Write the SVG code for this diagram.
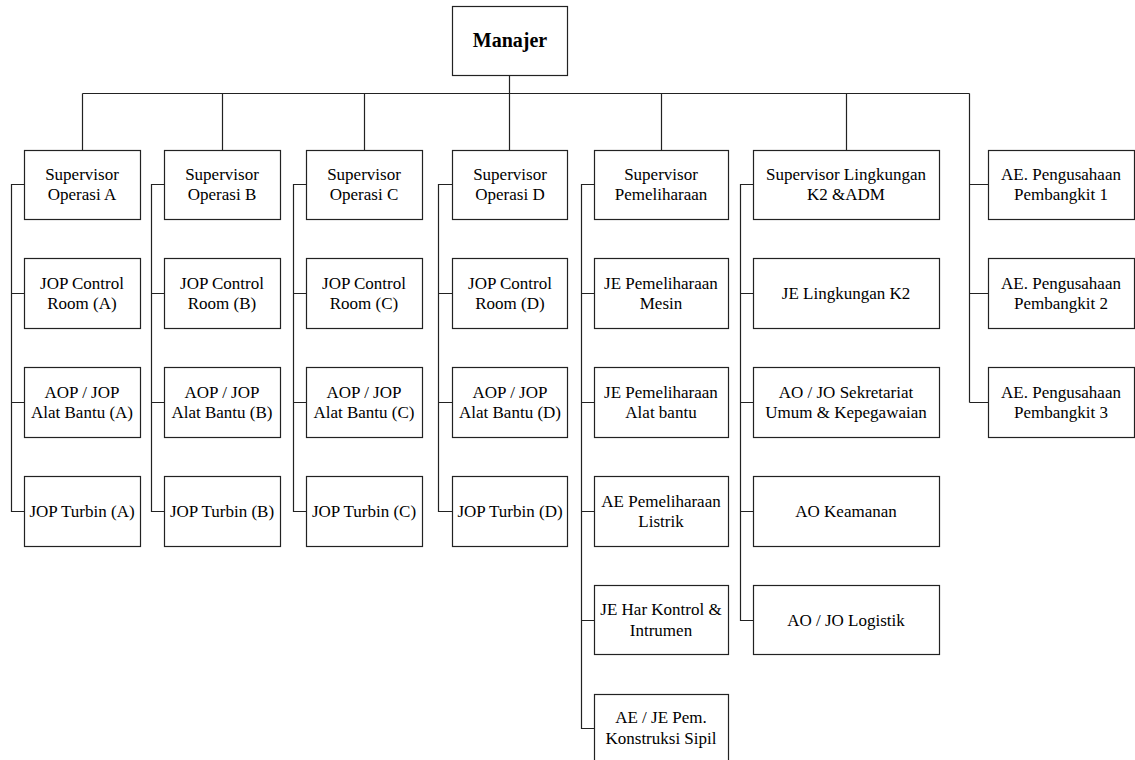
<svg xmlns="http://www.w3.org/2000/svg" width="1135" height="760" viewBox="0 0 1135 760">
<style>
.b{fill:#fff;stroke:#222;stroke-width:1.2}
.c{fill:none;stroke:#222;stroke-width:1.2}
text{font-family:"Liberation Serif","Times New Roman",serif;font-size:17px;fill:#000;text-anchor:middle}
.m{font-size:20px;font-weight:bold}
</style>
<rect width="1135" height="760" fill="#fff"/>
<g id="connectors">
<path class="c" d="M509.5 75.5V150.5M82.5 93.5H969.5M82.5 93.5V150.5M222.5 93.5V150.5M364.5 93.5V150.5M661.5 93.5V150.5M846.5 93.5V150.5"/>
<path class="c" d="M969.5 93.5V402.5M969.5 184.5H988.5M969.5 293.5H988.5M969.5 402.5H988.5"/>
<path class="c" d="M24.5 184.5H11.5V511.5H24.5M11.5 293.5H24.5M11.5 402.5H24.5"/>
<path class="c" d="M164.5 184.5H151.5V511.5H164.5M151.5 293.5H164.5M151.5 402.5H164.5"/>
<path class="c" d="M306.5 184.5H293.5V511.5H306.5M293.5 293.5H306.5M293.5 402.5H306.5"/>
<path class="c" d="M452.5 184.5H438.5V511.5H452.5M438.5 293.5H452.5M438.5 402.5H452.5"/>
<path class="c" d="M594.5 184.5H581.5V728.5H594.5M581.5 293.5H594.5M581.5 402.5H594.5M581.5 511.5H594.5M581.5 620.5H594.5"/>
<path class="c" d="M753.5 184.5H740.5V620.5H753.5M740.5 293.5H753.5M740.5 402.5H753.5M740.5 511.5H753.5"/>
</g>
<g id="manajer"><rect class="b" x="452.5" y="6.5" width="115" height="69"/><text class="m" x="510" y="47">Manajer</text></g>

<g id="sup-a"><rect class="b" x="24.5" y="150.5" width="116" height="69"/><text x="82" y="179.5">Supervisor</text><text x="82" y="200">Operasi A</text></g>
<g id="sup-b"><rect class="b" x="164.5" y="150.5" width="116" height="69"/><text x="222" y="179.5">Supervisor</text><text x="222" y="200">Operasi B</text></g>
<g id="sup-c"><rect class="b" x="306.5" y="150.5" width="116" height="69"/><text x="364" y="179.5">Supervisor</text><text x="364" y="200">Operasi C</text></g>
<g id="sup-d"><rect class="b" x="452.5" y="150.5" width="115" height="69"/><text x="510" y="179.5">Supervisor</text><text x="510" y="200">Operasi D</text></g>
<g id="sup-pem"><rect class="b" x="594.5" y="150.5" width="134" height="69"/><text x="661" y="179.5">Supervisor</text><text x="661" y="200">Pemeliharaan</text></g>
<g id="sup-ling"><rect class="b" x="753.5" y="150.5" width="186" height="69"/><text x="846" y="179.5">Supervisor Lingkungan</text><text x="846" y="200">K2 &amp;ADM</text></g>
<g id="ae1"><rect class="b" x="988.5" y="150.5" width="146" height="69"/><text x="1061" y="179.5">AE. Pengusahaan</text><text x="1061" y="200">Pembangkit 1</text></g>

<g id="jop-cr-a"><rect class="b" x="24.5" y="258.5" width="116" height="70"/><text x="82" y="288.5">JOP Control</text><text x="82" y="309">Room (A)</text></g>
<g id="jop-cr-b"><rect class="b" x="164.5" y="258.5" width="116" height="70"/><text x="222" y="288.5">JOP Control</text><text x="222" y="309">Room (B)</text></g>
<g id="jop-cr-c"><rect class="b" x="306.5" y="258.5" width="116" height="70"/><text x="364" y="288.5">JOP Control</text><text x="364" y="309">Room (C)</text></g>
<g id="jop-cr-d"><rect class="b" x="452.5" y="258.5" width="115" height="70"/><text x="510" y="288.5">JOP Control</text><text x="510" y="309">Room (D)</text></g>
<g id="je-mesin"><rect class="b" x="594.5" y="258.5" width="134" height="70"/><text x="661" y="288.5">JE Pemeliharaan</text><text x="661" y="309">Mesin</text></g>
<g id="je-ling"><rect class="b" x="753.5" y="258.5" width="186" height="70"/><text x="846" y="299">JE Lingkungan K2</text></g>
<g id="ae2"><rect class="b" x="988.5" y="258.5" width="146" height="70"/><text x="1061" y="288.5">AE. Pengusahaan</text><text x="1061" y="309">Pembangkit 2</text></g>

<g id="aop-a"><rect class="b" x="24.5" y="367.5" width="116" height="70"/><text x="82" y="397.5">AOP / JOP</text><text x="82" y="418">Alat Bantu (A)</text></g>
<g id="aop-b"><rect class="b" x="164.5" y="367.5" width="116" height="70"/><text x="222" y="397.5">AOP / JOP</text><text x="222" y="418">Alat Bantu (B)</text></g>
<g id="aop-c"><rect class="b" x="306.5" y="367.5" width="116" height="70"/><text x="364" y="397.5">AOP / JOP</text><text x="364" y="418">Alat Bantu (C)</text></g>
<g id="aop-d"><rect class="b" x="452.5" y="367.5" width="115" height="70"/><text x="510" y="397.5">AOP / JOP</text><text x="510" y="418">Alat Bantu (D)</text></g>
<g id="je-alat"><rect class="b" x="594.5" y="367.5" width="134" height="70"/><text x="661" y="397.5">JE Pemeliharaan</text><text x="661" y="418">Alat bantu</text></g>
<g id="ao-sekr"><rect class="b" x="753.5" y="367.5" width="186" height="70"/><text x="846" y="397.5">AO / JO Sekretariat</text><text x="846" y="418">Umum &amp; Kepegawaian</text></g>
<g id="ae3"><rect class="b" x="988.5" y="367.5" width="146" height="70"/><text x="1061" y="397.5">AE. Pengusahaan</text><text x="1061" y="418">Pembangkit 3</text></g>

<g id="turb-a"><rect class="b" x="24.5" y="476.5" width="116" height="70"/><text x="82" y="517">JOP Turbin (A)</text></g>
<g id="turb-b"><rect class="b" x="164.5" y="476.5" width="116" height="70"/><text x="222" y="517">JOP Turbin (B)</text></g>
<g id="turb-c"><rect class="b" x="306.5" y="476.5" width="116" height="70"/><text x="364" y="517">JOP Turbin (C)</text></g>
<g id="turb-d"><rect class="b" x="452.5" y="476.5" width="115" height="70"/><text x="510" y="517">JOP Turbin (D)</text></g>
<g id="ae-listrik"><rect class="b" x="594.5" y="476.5" width="134" height="70"/><text x="661" y="506.5">AE Pemeliharaan</text><text x="661" y="527">Listrik</text></g>
<g id="ao-keamanan"><rect class="b" x="753.5" y="476.5" width="186" height="70"/><text x="846" y="517">AO Keamanan</text></g>

<g id="je-har"><rect class="b" x="594.5" y="585.5" width="134" height="69"/><text x="661" y="615">JE Har Kontrol &amp;</text><text x="661" y="635.5">Intrumen</text></g>
<g id="ao-logistik"><rect class="b" x="753.5" y="585.5" width="186" height="69"/><text x="846" y="626">AO / JO Logistik</text></g>

<g id="ae-sipil"><rect class="b" x="594.5" y="694.5" width="134" height="70"/><text x="661" y="723">AE / JE Pem.</text><text x="661" y="743.5">Konstruksi Sipil</text></g>
</svg>
